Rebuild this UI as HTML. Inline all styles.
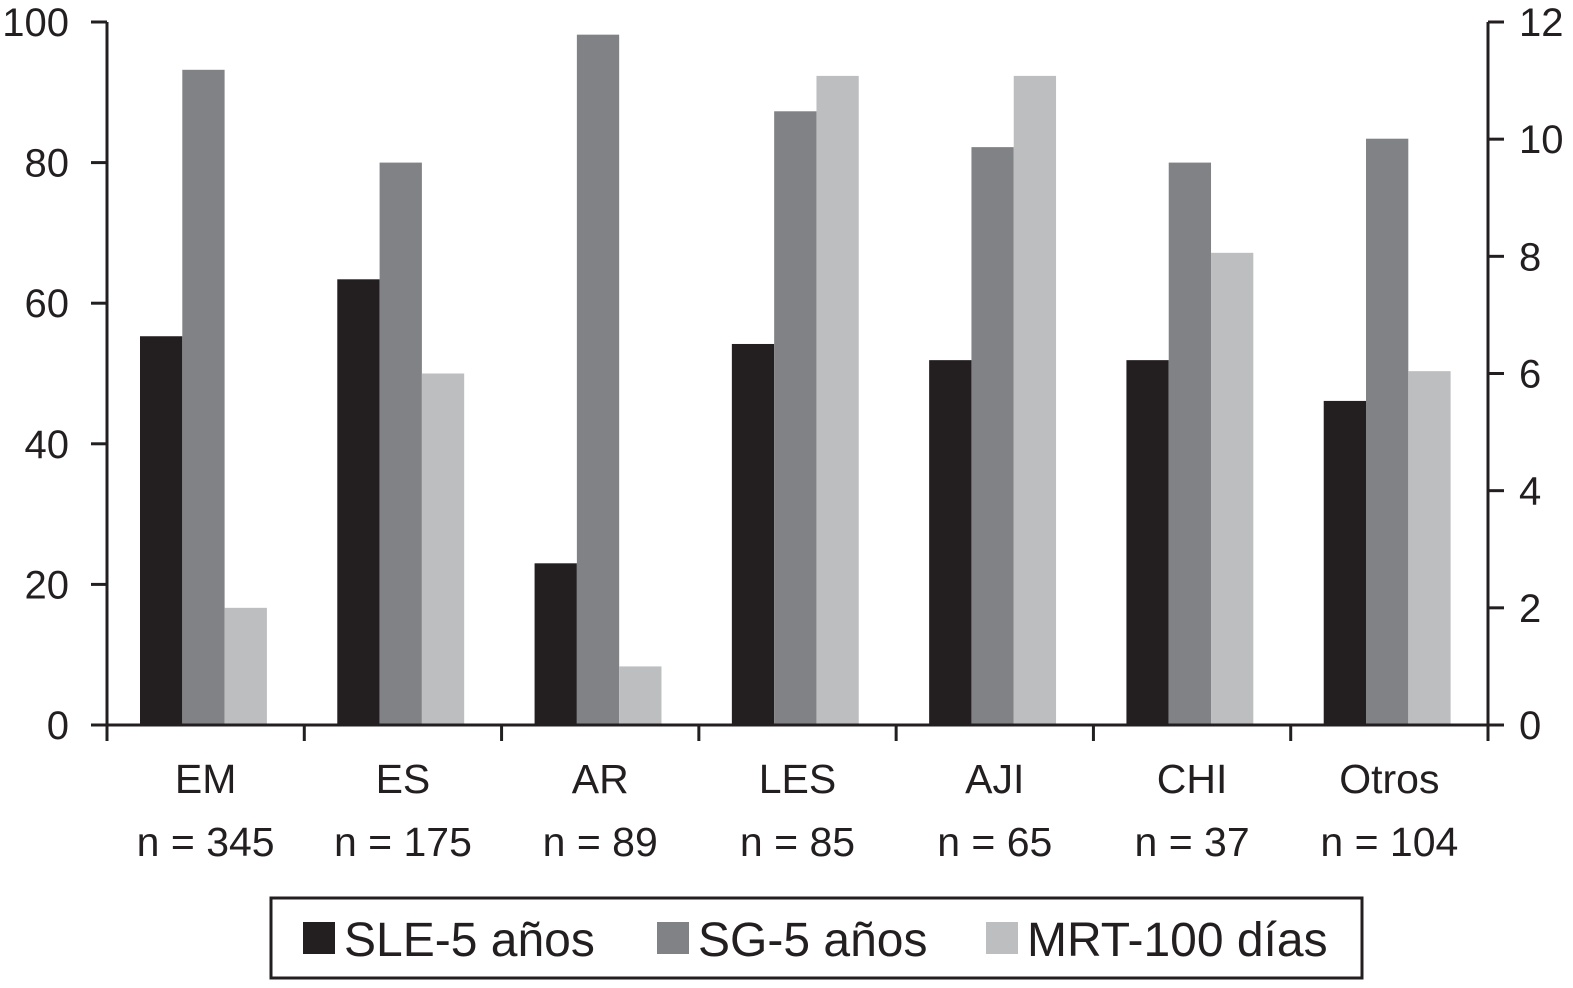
<!DOCTYPE html>
<html><head><meta charset="utf-8"><style>
body{margin:0;background:#fff}
svg text{font-family:"Liberation Sans",sans-serif;fill:#231f20}
</style></head><body>
<svg id="chart" width="1573" height="983" xmlns="http://www.w3.org/2000/svg"></svg>
<script>
const categories=["EM","ES","AR","LES","AJI","CHI","Otros"];
const counts=["n = 345","n = 175","n = 89","n = 85","n = 65","n = 37","n = 104"];
const sle=[55.3,63.4,23,54.2,51.9,51.9,46.1];
const sg=[93.2,80,98.2,87.3,82.2,80,83.4];
const mrt=[2.0,6.0,1.0,11.08,11.08,8.06,6.04];
const leftTicks=[0,20,40,60,80,100];
const rightTicks=[0,2,4,6,8,10,12];
const svg=document.getElementById('chart');
const NS="http://www.w3.org/2000/svg";
const x0=107,x1=1488,yB=725,yT=22;
const yL=v=>yB-(v/100)*(yB-yT);
const yR=v=>yB-(v/12)*(yB-yT);
const bw=(x1-x0)/categories.length;
function el(t,a,txt){const e=document.createElementNS(NS,t);for(const k in a)e.setAttribute(k,a[k]);if(txt!=null)e.textContent=txt;svg.appendChild(e);return e;}
const colors=["#231f20","#818285","#bdbec0"];
categories.forEach((c,i)=>{
  const gx=x0+i*bw+33;
  const vals=[yL(sle[i]),yL(sg[i]),yR(mrt[i])];
  const names=["bar-sle-","bar-sg-","bar-mrt-"];
  vals.forEach((y,j)=>{
    const r=el('rect',{x:gx+j*42.3,y:y,width:42.3,height:yB-y,fill:colors[j]});
    
    
  });
  const t1=el('text',{x:x0+(i+0.5)*bw,y:793,'font-size':41,'text-anchor':'middle'},c);
  
  
  const t2=el('text',{x:x0+(i+0.5)*bw,y:856,'font-size':41,'text-anchor':'middle'},counts[i]);
  
  
});
const ax=el('path',{d:`M${x0} ${yT}V${yB}H${x1}V${yT}`,stroke:'#231f20','stroke-width':3,fill:'none'});


for(let i=0;i<=categories.length;i++){const x=x0+i*bw;el('line',{x1:x,x2:x,y1:yB,y2:yB+16,stroke:'#231f20','stroke-width':3});}
leftTicks.forEach(v=>{const y=yL(v);el('line',{x1:x0-16,x2:x0,y1:y,y2:y,stroke:'#231f20','stroke-width':3});
  const t=el('text',{x:69,y:y+14,'font-size':40,'text-anchor':'end'},v);
  
  });
rightTicks.forEach(v=>{const y=yR(v);el('line',{x1:x1,x2:x1+16,y1:y,y2:y,stroke:'#231f20','stroke-width':3});
  const t=el('text',{x:1519,y:y+14,'font-size':40,'text-anchor':'start'},v);
  
  });
const lg=el('rect',{x:271,y:898,width:1091,height:80,fill:'#fff',stroke:'#231f20','stroke-width':3});


const leg=[["SLE-5 años",303],["SG-5 años",657],["MRT-100 días",986]];
leg.forEach((l,j)=>{
  el('rect',{x:l[1],y:922,width:32,height:32,fill:colors[j]});
  const t=el('text',{x:l[1]+41,y:956,'font-size':48},l[0]);
  
  
});
</script>
</body></html>
